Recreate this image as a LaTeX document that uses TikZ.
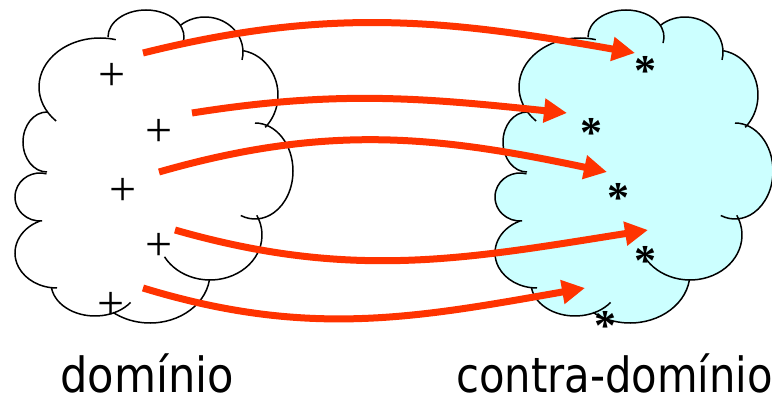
\documentclass[tikz,border=0pt]{standalone}
\usepackage{fontspec}
\setmainfont{DejaVu Sans}[FakeStretch=0.89]
\newfontfamily\narrowfont{DejaVu Sans}[FakeStretch=0.86]
\newfontfamily\markfont{Liberation Serif}
\definecolor{mRed}{HTML}{FF3300}
\definecolor{mCyan}{HTML}{CCFFFF}
\usetikzlibrary{arrows.meta}

\begin{document}
\begin{tikzpicture}[x=1pt, y=1pt,
    bump/.style={black, line width=1.5pt},
    maparrow/.style={-{Triangle[length=23pt, width=23pt]}, mRed, line width=7pt},
    elem/.style={inner sep=0pt, font=\markfont\fontsize{48}{48}\selectfont},
    img/.style={inner sep=0pt, yshift=-7.5pt, font=\markfont\bfseries\fontsize{44}{44}\selectfont},
    setlabel/.style={anchor=base west, inner sep=0pt, font=\fontsize{48.5}{50}\selectfont}]
  \useasboundingbox (0,0) rectangle (772,397);
  % fill of the right cloud
  \begin{scope}[xshift=480pt]
    \foreach \cx/\cy/\rx/\ry in {100/310/61/49, 146/360/38/27, 205/345/38/35,
        236/302/42/45, 255/226/38/48, 210/162/52/45, 150/124/60/50,
        95/114/44/33, 57/144/42/35, 40/200/25/24, 47/255/24/30}
      \fill[mCyan] (\cx,\cy) ellipse[x radius=\rx, y radius=\ry];
    \fill[mCyan] (100,310) -- (146,360) -- (205,345) -- (236,302) -- (255,226)
      -- (210,162) -- (150,124) -- (95,114) -- (57,144) -- (40,200) -- (47,255) -- cycle;
  \end{scope}
  % cloud outlines, one bump after the other
  \foreach \dx in {0,480}
    \foreach \cx/\cy/\rx/\ry/\sa/\ea in {100/310/61/49/-136/-285,
        146/360/38/27/-180/-373, 205/345/38/35/-229/-373,
        236/302/42/45/-280/-406, 255/226/38/48/-270/-472,
        210/162/52/45/-334/-511, 150/124/60/50/-8/-128,
        95/114/44/33/-171/-36, 57/144/42/35/-246/-90,
        40/200/25/24/-285/-85, 47/255/24/30/-270/-90}
      \draw[bump] (\cx+\dx,\cy) ++(\sa:{\rx} and {\ry})
        arc[start angle=\sa, end angle=\ea, x radius=\rx, y radius=\ry];
  % elements of the domain
  \node[elem] (p1) at (112,320) {+};
  \node[elem] (p2) at (159,264) {+};
  \node[elem] (p3) at (123,205) {+};
  \node[elem] (p4) at (159,150) {+};
  \node[elem] (p5) at (111,91) {+};
  % images
  \node[img] (q1) at (645,334) {*};
  \node[img] (q2) at (591,272) {*};
  \node[img] (q3) at (618,207) {*};
  \node[img] (q4) at (645,144) {*};
  \node[img] (q5) at (605,79) {*};
  % arrow ends
  \coordinate (s1) at (143,344); \coordinate (t1) at (635,344);
  \coordinate (s2) at (192,284); \coordinate (t2) at (567,284);
  \coordinate (s3) at (159,225); \coordinate (t3) at (607,225);
  \coordinate (s4) at (175,167); \coordinate (t4) at (648,167);
  \coordinate (s5) at (143,109); \coordinate (t5) at (585,109);
  \foreach \i/\o/\n in {1/14/170, 2/9/174, 3/16/168, 4/-16/189, 5/-17/190}
    \draw[maparrow] (s\i) to[out=\o, in=\n] (t\i);
  % set names
  \node[setlabel] (dom) at (60,5) {domínio};
  \node[setlabel, font=\narrowfont\fontsize{48.5}{50}\selectfont] (cdom) at (456,5) {contra-domínio};
\end{tikzpicture}
\end{document}
